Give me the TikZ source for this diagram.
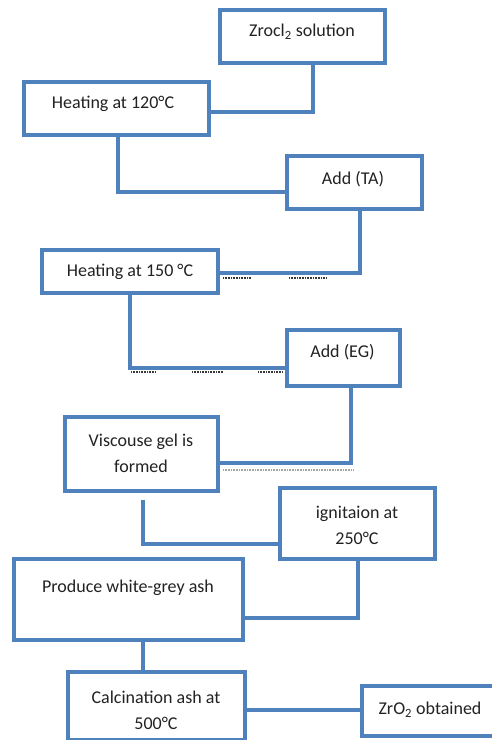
\documentclass[tikz,border=0pt]{standalone}
\usepackage{fontspec}
\setmainfont{Carlito}
\usetikzlibrary{calc}

\begin{document}
\begin{tikzpicture}[x=1pt, y=-1pt,
    box/.style={draw=boxColour, line width=4pt, fill=white, inner sep=0pt},
    txt/.style={font=\fontsize{18pt}{26pt}\selectfont, align=center, text=textColour, inner sep=0pt},
    link/.style={draw=boxColour, line width=4pt},
    speck/.style={draw=speckColour, line width=1.5pt, dash pattern=on 1pt off 0.6pt}]

    \definecolor{boxColour}{HTML}{4F81BD}
    \definecolor{textColour}{HTML}{222222}
    \definecolor{speckColour}{HTML}{3A3A3A}

    % Page size
    \useasboundingbox (0,0) rectangle (492,740);

    % Draw the boxes
    \node[box, minimum width=165pt, minimum height=53pt] (zrocl) at (302.5,36.5) {};
    \node[box, minimum width=185pt, minimum height=53pt] (heatA) at (116.5,108.5) {};
    \node[box, minimum width=135pt, minimum height=53pt] (addTA) at (354.5,182.5) {};
    \node[box, minimum width=176pt, minimum height=43pt] (heatB) at (130,271.5) {};
    \node[box, minimum width=113pt, minimum height=56pt] (addEG) at (343.5,358) {};
    \node[box, minimum width=153pt, minimum height=74pt] (gel) at (141.5,454) {};
    \node[box, minimum width=155pt, minimum height=71pt] (ignit) at (357.5,523.5) {};
    \node[box, minimum width=229pt, minimum height=81pt] (ash) at (128.5,599.5) {};
    \node[box, minimum width=177pt, minimum height=68pt] (calc) at (156,706) {};
    \node[box, minimum width=134pt, minimum height=50pt] (zro) at (429,711) {};

    % Texts of the boxes
    \node[txt] (zroclT) at (302,32) {Zrocl\textsubscript{2} solution};
    \node[txt] (heatAT) at (113,104) {Heating at 120°C};
    \node[txt] (addTAT) at (353,179) {Add (TA)};
    \node[txt] (heatBT) at (130,272) {Heating at 150 °C};
    \node[txt] (addEGT) at (342.5,352) {Add (EG)};
    \node[txt] (gelT) at (141,453) {Viscouse gel is\\formed};
    \node[txt] (ignitT) at (357,525) {ignitaion at\\250°C};
    \node[txt] (ashT) at (128,588) {Produce white-grey ash};
    \node[txt] (calcT) at (156,710) {Calcination ash at\\500°C};
    \node[txt] (zroT) at (430,710) {ZrO\textsubscript{2} obtained};

    % Draw the connectors
    \draw[link] ([xshift=10.5pt]zrocl.south) |- ([yshift=-3.5pt]heatA.east);
    \draw[link] ([xshift=1pt]heatA.south) |- ([yshift=-9.5pt]addTA.west);
    \draw[link] ([xshift=5.5pt]addTA.south) |- ([yshift=-1.5pt]heatB.east);
    \draw[link] (heatB.south) |- ([yshift=-10pt]addEG.west);
    \draw[link] ([xshift=7.5pt]addEG.south) |- ([yshift=-9pt]gel.east);
    \draw[link] ([xshift=1.5pt,yshift=-7pt]gel.south) |- ([yshift=-20.5pt]ignit.west);
    \draw[link] (ignit.south) |- ([yshift=-18.5pt]ash.east);
    \draw[link] ([xshift=14.5pt]ash.south) -- ([xshift=-13pt]calc.north);
    \draw[link] ([yshift=-4pt]calc.east) -- ([yshift=1pt]zro.west);

    % Specks under the lines
    \draw[speck] (223,278) -- (251,278);
    \draw[speck] (289,278) -- (326,278);
    \draw[speck] (131,372) -- (156,372);
    \draw[speck] (192,372) -- (223,372);
    \draw[speck] (258,372) -- (283,372);
    \draw[speck, speckColour!45] (223,470) -- (353,470);

\end{tikzpicture}
\end{document}
